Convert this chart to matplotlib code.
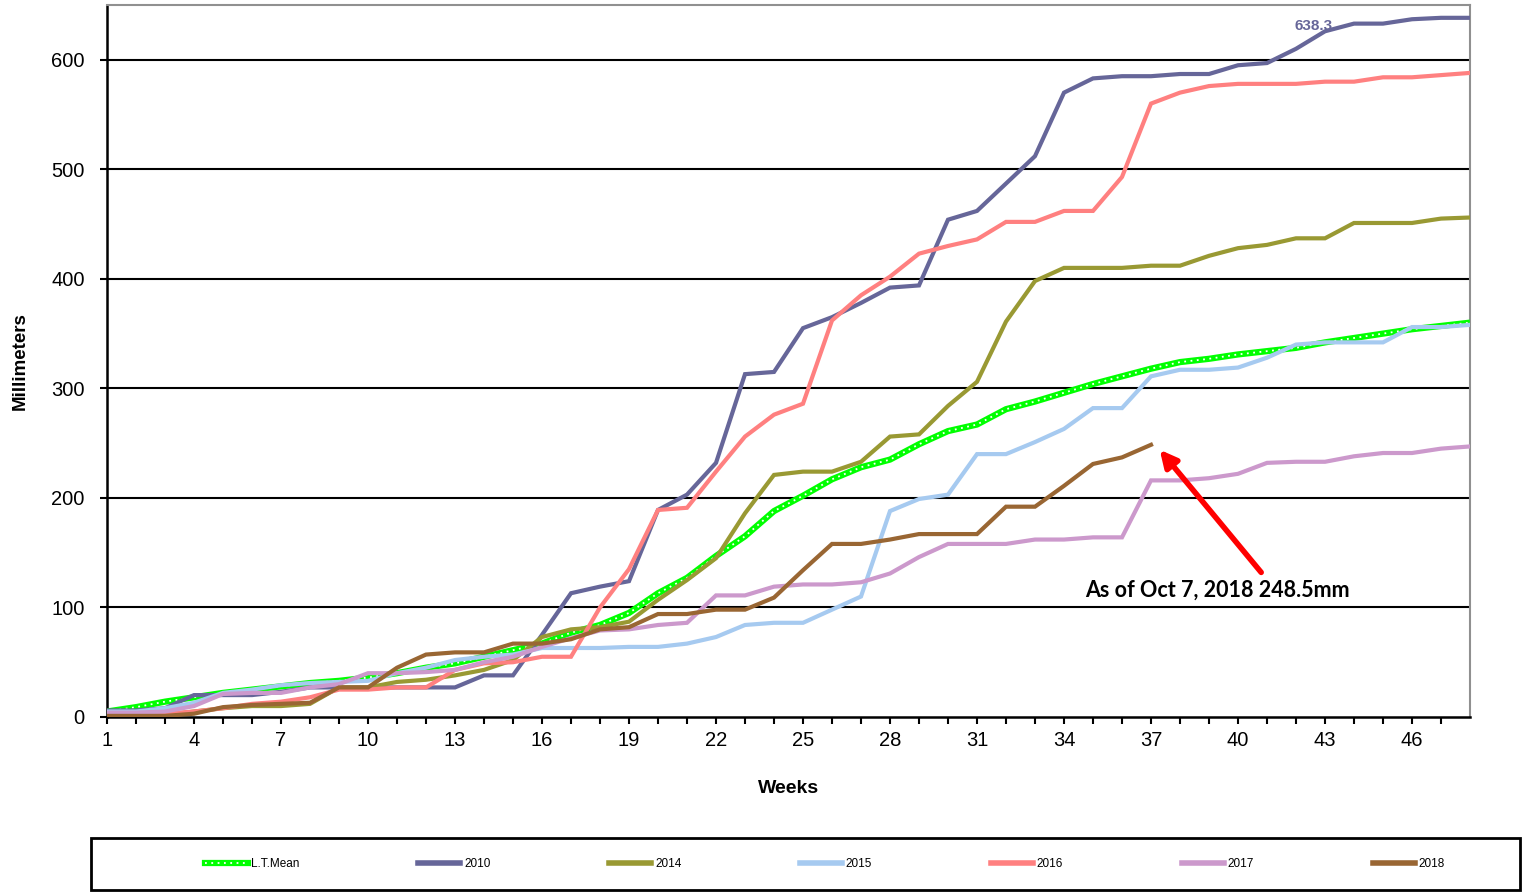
import matplotlib
matplotlib.use("Agg")
import matplotlib.pyplot as plt
from matplotlib.lines import Line2D
from matplotlib.legend_handler import HandlerTuple
from matplotlib.patches import Rectangle

plt.rcParams["font.family"] = ["Liberation Sans", "DejaVu Sans"]

# --------------------------------------------------------------------------- #
# Data: cumulative rainfall (mm) per week
# --------------------------------------------------------------------------- #
weeks = list(range(1, 49))

lt_mean = [5, 9, 14, 18, 22, 25, 28, 31, 33, 36, 40, 45, 49, 55, 61, 67,
           77, 84, 95, 113, 127, 147, 165, 188, 202, 217, 228, 235, 249, 261,
           267, 281, 288, 296, 304, 311, 318, 324, 327, 331, 334, 337, 342,
           346, 350, 354, 357, 360]

y2010 = [6, 6, 8, 20, 20, 20, 23, 27, 27, 27, 27, 27, 27, 38, 38, 75,
         113, 119, 124, 189, 203, 232, 313, 315, 355, 365, 378, 392, 394,
         454, 462, 487, 512, 570, 583, 585, 585, 587, 587, 595, 597, 610,
         626, 633, 633, 637, 638.3, 638.3]

y2014 = [0, 0, 2, 5, 8, 10, 10, 12, 27, 27, 32, 34, 38, 43, 52, 73,
         80, 82, 87, 107, 125, 145, 186, 221, 224, 224, 233, 256, 258, 284,
         306, 361, 398, 410, 410, 410, 412, 412, 421, 428, 431, 437, 437,
         451, 451, 451, 455, 456]

y2015 = [5, 5, 8, 13, 22, 25, 29, 31, 32, 33, 40, 45, 52, 55, 57, 63,
         63, 63, 64, 64, 67, 73, 84, 86, 86, 98, 110, 188, 199, 203, 240,
         240, 251, 263, 282, 282, 311, 317, 317, 319, 328, 340, 342, 342,
         342, 356, 356, 358]

y2016 = [2, 2, 3, 5, 8, 12, 14, 18, 25, 25, 27, 27, 43, 49, 50, 55,
         55, 100, 135, 189, 191, 224, 256, 276, 286, 362, 385, 402, 423,
         430, 436, 452, 452, 462, 462, 493, 560, 570, 576, 578, 578, 578,
         580, 580, 584, 584, 586, 588]

y2017 = [4, 4, 5, 10, 21, 22, 22, 27, 30, 40, 40, 41, 43, 50, 55, 64,
         72, 79, 80, 84, 86, 111, 111, 119, 121, 121, 123, 131, 146, 158,
         158, 158, 162, 162, 164, 164, 216, 216, 218, 222, 232, 233, 233,
         238, 241, 241, 245, 247]

weeks_2018 = list(range(1, 38))
y2018 = [1, 1, 1, 3, 9, 11, 12, 13, 27, 27, 45, 57, 59, 59, 67, 67,
         71, 80, 82, 94, 94, 98, 98, 109, 134, 158, 158, 162, 167, 167,
         167, 192, 192, 211, 231, 237, 248.5]

series = [
    ("2010", weeks, y2010, "#666699"),
    ("2014", weeks, y2014, "#999933"),
    ("2015", weeks, y2015, "#A6CAF0"),
    ("2016", weeks, y2016, "#FF8080"),
    ("2017", weeks, y2017, "#CC99CC"),
    ("2018", weeks_2018, y2018, "#996633"),
]

xtick_weeks = list(range(1, 47, 3))
ytick_vals = [0, 100, 200, 300, 400, 500, 600]

# --------------------------------------------------------------------------- #
# Figure
# --------------------------------------------------------------------------- #
fig = plt.figure(figsize=(15.22, 8.92), dpi=100)
ax = fig.add_axes([107 / 1522, 1 - 717 / 892, (1470 - 107) / 1522, (717 - 5) / 892])

# Long-term mean: thick green with white dots on top
ax.plot(weeks, lt_mean, color="#00FF00", lw=4.5, solid_capstyle="butt", zorder=3)
ax.plot(weeks, lt_mean, color="white", lw=1.3, ls=(0, (1, 2.5)), zorder=3)
mean_handle = (Line2D([], [], color="#00FF00", lw=4.5),
               Line2D([], [], color="white", lw=1.3, ls=(0, (1, 2.5))))

handles = [mean_handle]
labels = ["L.T.Mean"]
for i, (name, x, y, c) in enumerate(series):
    ax.plot(x, y, color=c, lw=3, zorder=4 + i, solid_joinstyle="miter")
    handles.append(Line2D([], [], color=c, lw=4))
    labels.append(name)

ax.set_xlim(1, 48)
ax.set_ylim(0, 650)
ax.set_xticks(weeks[:-1])
ax.set_xticklabels([str(w) if w in xtick_weeks else "" for w in weeks[:-1]])
ax.set_yticks(ytick_vals)
ax.tick_params(axis="both", direction="out", length=5, width=1.5,
               labelsize=14.5, color="black")
ax.tick_params(axis="x", pad=5)
ax.tick_params(axis="y", pad=11)

for yv in ytick_vals[1:]:
    ax.axhline(yv, color="black", lw=1.5, zorder=1)

ax.spines["left"].set_linewidth(1.8)
ax.spines["bottom"].set_linewidth(1.8)
ax.spines["top"].set_color("#909090")
ax.spines["right"].set_color("#909090")
ax.spines["top"].set_linewidth(1.5)
ax.spines["right"].set_linewidth(1.5)

ax.set_xlabel("Weeks", fontsize=14, fontweight="bold", labelpad=22)
ax.set_ylabel("Millimeters", fontsize=13.5, fontweight="bold", labelpad=16)

# Max label for 2010
ax.text(42.6, 631, "638.3", color="#666699", fontsize=11, fontweight="bold",
        ha="center", va="center", zorder=10)

# Annotation arrow for 2018
ax.annotate("", xy=(37.3, 244), xytext=(40.8, 132),
            arrowprops=dict(arrowstyle="-|>,head_length=1.0,head_width=0.5",
                            color="red", lw=4, shrinkA=0, shrinkB=0),
            zorder=11)
ax.text(39.3, 116, "As of Oct 7, 2018 248.5mm", fontsize=15.5,
        fontweight="bold", family=["Lato", "DejaVu Sans"], ha="center",
        va="center", zorder=11)

# Legend box
fig.patches.append(Rectangle((91 / 1522, 1 - 890 / 892), (1520 - 91) / 1522,
                             (890 - 838) / 892, transform=fig.transFigure,
                             fill=False, edgecolor="black", lw=2))
fig.legend(handles, labels, loc="center left", ncol=7, mode="expand",
           bbox_to_anchor=(205 / 1522, 1 - 864 / 892, (1445 - 205) / 1522, 0),
           frameon=False, fontsize=8.5, handlelength=3.6, handletextpad=0.3,
           borderaxespad=0, borderpad=0,
           handler_map={tuple: HandlerTuple(ndivide=1, pad=0)})

fig.savefig("out.png", dpi=100)
